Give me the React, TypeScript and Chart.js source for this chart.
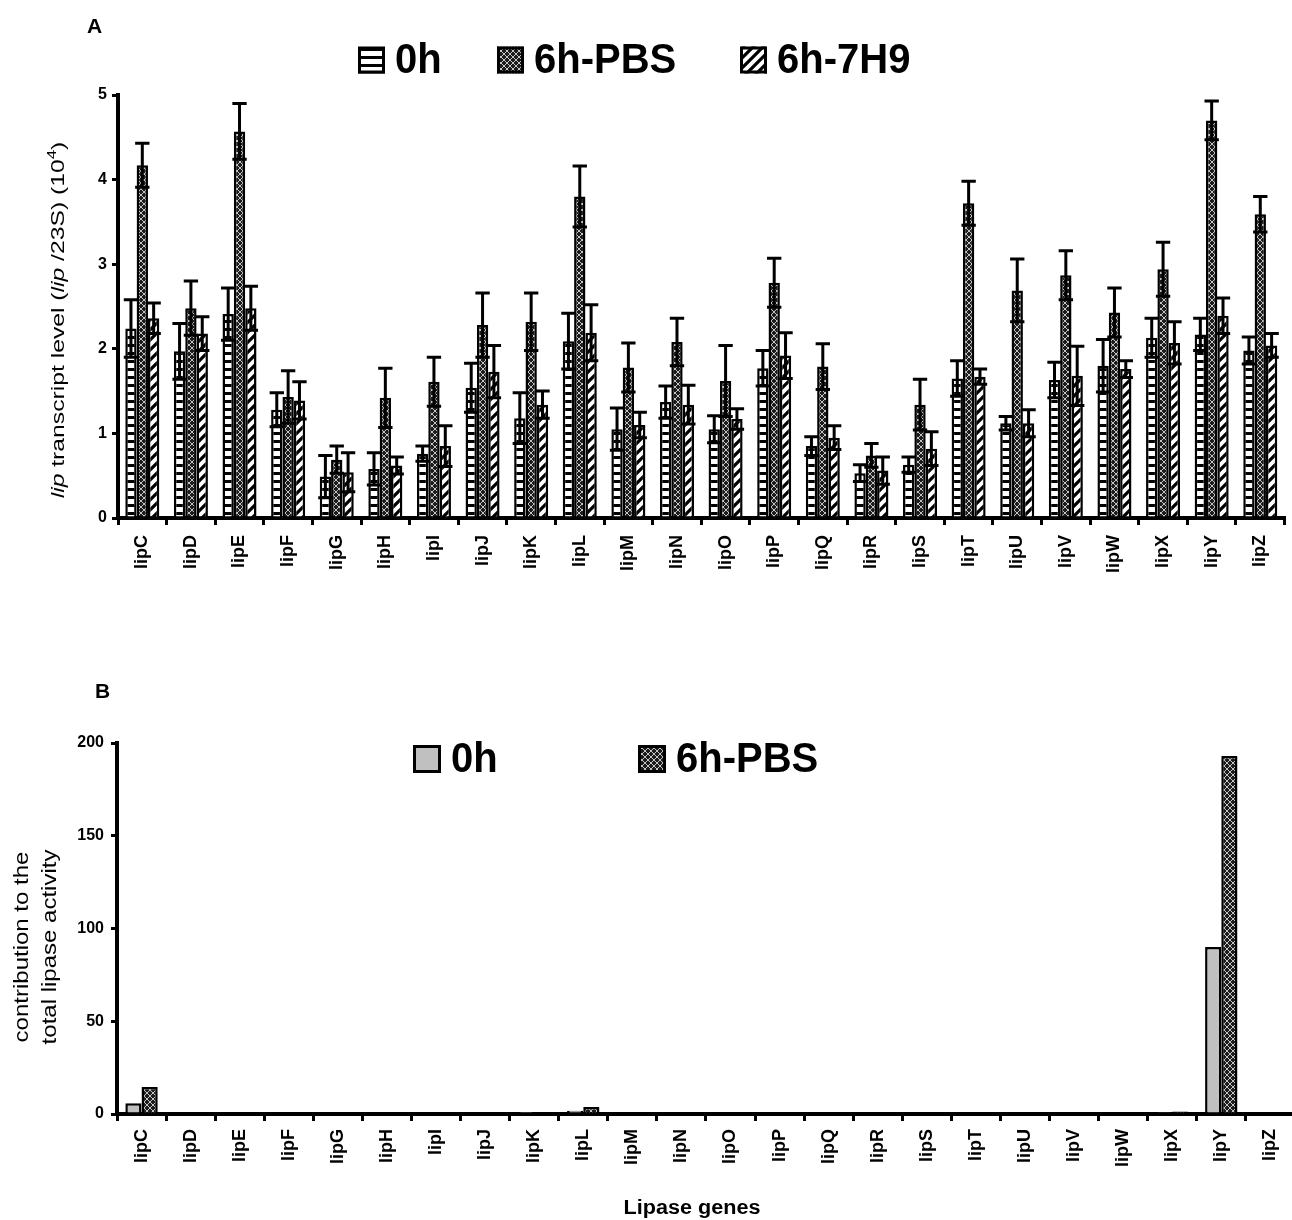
import React, { useEffect, useRef } from "react";
import { Chart, registerables } from "chart.js";

Chart.register(...registerables);

const FONT = "'Liberation Sans', Arial, Helvetica, sans-serif";

const genes = ["lipC", "lipD", "lipE", "lipF", "lipG", "lipH", "lipI", "lipJ", "lipK", "lipL", "lipM", "lipN", "lipO", "lipP", "lipQ", "lipR", "lipS", "lipT", "lipU", "lipV", "lipW", "lipX", "lipY", "lipZ"];

// Panel A: lip transcript level (10^4)
const seriesA = ["0h", "6h-PBS", "6h-7H9"];
const a0h = [2.24, 1.97, 2.41, 1.28, 0.49, 0.58, 0.76, 1.54, 1.18, 2.09, 1.05, 1.37, 1.05, 1.77, 0.85, 0.53, 0.63, 1.65, 1.12, 1.63, 1.8, 2.13, 2.17, 1.98];
const a0hErr = [0.34, 0.33, 0.31, 0.2, 0.25, 0.19, 0.09, 0.29, 0.3, 0.33, 0.25, 0.19, 0.16, 0.21, 0.11, 0.1, 0.09, 0.21, 0.08, 0.21, 0.31, 0.23, 0.19, 0.16];
const aPBS = [4.17, 2.48, 4.57, 1.43, 0.69, 1.42, 1.61, 2.28, 2.32, 3.8, 1.78, 2.08, 1.62, 2.78, 1.79, 0.74, 1.34, 3.72, 2.69, 2.87, 2.43, 2.94, 4.7, 3.59];
const aPBSErr = [0.26, 0.32, 0.33, 0.31, 0.16, 0.35, 0.29, 0.38, 0.34, 0.36, 0.29, 0.28, 0.42, 0.29, 0.27, 0.14, 0.3, 0.26, 0.37, 0.29, 0.29, 0.32, 0.23, 0.21];
const a7H9 = [2.36, 2.18, 2.48, 1.39, 0.54, 0.62, 0.85, 1.73, 1.34, 2.19, 1.1, 1.34, 1.17, 1.92, 0.95, 0.56, 0.82, 1.67, 1.12, 1.68, 1.76, 2.07, 2.39, 2.04];
const a7H9Err = [0.18, 0.2, 0.26, 0.22, 0.23, 0.1, 0.24, 0.31, 0.16, 0.33, 0.15, 0.23, 0.12, 0.27, 0.14, 0.16, 0.2, 0.09, 0.16, 0.35, 0.1, 0.25, 0.21, 0.14];
const yMaxA = 5;
const yStepA = 1;

// Panel B: contribution to the total lipase activity
const seriesB = ["0h", "6h-PBS"];
const b0h = [5.8, 0, 0, 0, 0, 0, 0, 0, 0.3, 1.8, 0, 0, 0, 0, 0, 0, 0, 0, 0, 0, 0, 0.6, 90, 0];
const bPBS = [14.5, 0, 0, 0, 0, 0, 0, 0, 0.8, 3.8, 0, 0, 0, 0, 0, 0, 0, 0, 0, 0, 0, 1.4, 193, 0];
const yMaxB = 200;
const yStepB = 50;

function makePattern(kind: string): CanvasPattern | string {
  const c = document.createElement("canvas");
  const ctx = c.getContext("2d");
  if (!ctx) return "#888";
  if (kind === "stripes") {
    c.width = 8; c.height = 8;
    ctx.fillStyle = "#fff"; ctx.fillRect(0, 0, 8, 8);
    ctx.fillStyle = "#000"; ctx.fillRect(0, 0, 8, 3);
  } else if (kind === "cross") {
    c.width = 6; c.height = 6;
    ctx.fillStyle = "#1c1c1c"; ctx.fillRect(0, 0, 6, 6);
    ctx.strokeStyle = "#c4c4c4"; ctx.lineWidth = 1;
    ctx.beginPath();
    ctx.moveTo(0, 0); ctx.lineTo(6, 6);
    ctx.moveTo(6, 0); ctx.lineTo(0, 6);
    ctx.stroke();
  } else if (kind === "diag") {
    c.width = 10; c.height = 10;
    ctx.fillStyle = "#fff"; ctx.fillRect(0, 0, 10, 10);
    ctx.strokeStyle = "#000"; ctx.lineWidth = 3.2;
    ctx.beginPath();
    ctx.moveTo(-1, 11); ctx.lineTo(11, -1);
    ctx.moveTo(-6, 6); ctx.lineTo(6, -6);
    ctx.moveTo(4, 16); ctx.lineTo(16, 4);
    ctx.stroke();
  }
  return ctx.createPattern(c, "repeat") || "#888";
}

type Seg = { t: string; size: number; weight?: string; style?: string; dy?: number };
type TextItem = { x: number; y: number; rot?: number; sx?: number; align?: "center" | "left"; baseline?: CanvasTextBaseline; segs: Seg[] };

function makeTextPlugin(id: string, items: TextItem[]) {
  return {
    id,
    afterDraw(chart: any) {
      const ctx: CanvasRenderingContext2D = chart.ctx;
      const fontOf = (s: Seg) => `${s.style || "normal"} ${s.weight || "normal"} ${s.size}px ${FONT}`;
      items.forEach((it) => {
        ctx.save();
        ctx.translate(it.x, it.y);
        if (it.rot) ctx.rotate(it.rot);
        if (it.sx) ctx.scale(it.sx, 1);
        ctx.fillStyle = "#000";
        ctx.textAlign = "left";
        ctx.textBaseline = it.baseline || "middle";
        let total = 0;
        it.segs.forEach((s) => { ctx.font = fontOf(s); total += ctx.measureText(s.t).width; });
        let x = it.align === "left" ? 0 : -total / 2;
        it.segs.forEach((s) => {
          ctx.font = fontOf(s);
          ctx.fillText(s.t, x, s.dy || 0);
          x += ctx.measureText(s.t).width;
        });
        ctx.restore();
      });
    },
  };
}

function makeLegendPlugin(id: string, labels: string[], fills: (CanvasPattern | string)[], xs: number[], cy: number, box: number, fontSize: number) {
  return {
    id,
    afterDraw(chart: any) {
      const ctx: CanvasRenderingContext2D = chart.ctx;
      ctx.save();
      labels.forEach((lab, i) => {
        const x = xs[i];
        ctx.fillStyle = fills[i] as any;
        ctx.fillRect(x, cy - box / 2, box, box);
        ctx.strokeStyle = "#000";
        ctx.lineWidth = 3;
        ctx.strokeRect(x + 1.5, cy - box / 2 + 1.5, box - 3, box - 3);
        ctx.fillStyle = "#000";
        ctx.font = `bold ${fontSize}px ${FONT}`;
        ctx.textAlign = "left";
        ctx.textBaseline = "middle";
        ctx.save();
        ctx.translate(x + box + 10, cy + 1);
        ctx.scale(1, 1.08);
        ctx.fillText(lab, 0, 0);
        ctx.restore();
      });
      ctx.restore();
    },
  };
}

function makeErrorPlugin(errs: number[][]) {
  return {
    id: "errorBars",
    afterDatasetsDraw(chart: any) {
      const ctx: CanvasRenderingContext2D = chart.ctx;
      const ys = chart.scales.y;
      ctx.save();
      ctx.strokeStyle = "#000";
      ctx.lineWidth = 3;
      chart.data.datasets.forEach((ds: any, di: number) => {
        const e = errs[di];
        if (!e) return;
        const meta = chart.getDatasetMeta(di);
        meta.data.forEach((bar: any, i: number) => {
          const v = ds.data[i];
          const hi = ys.getPixelForValue(v + e[i]);
          const lo = ys.getPixelForValue(Math.max(0, v - e[i]));
          const half = bar.width / 2 + 1.5;
          ctx.beginPath();
          ctx.moveTo(bar.x, lo); ctx.lineTo(bar.x, hi);
          ctx.moveTo(bar.x - half, hi); ctx.lineTo(bar.x + half, hi);
          ctx.moveTo(bar.x - half, lo); ctx.lineTo(bar.x + half, lo);
          ctx.stroke();
        });
      });
      ctx.restore();
    },
  };
}

function axisCommon(yWidth: number, xHeight: number, yMax: number, yStep: number, yPad: number, xPad: number) {
  return {
    x: {
      ticks: { font: { family: FONT, size: 18, weight: "bold" }, color: "#000", maxRotation: 90, minRotation: 90, padding: xPad, autoSkip: false },
      grid: { display: true, offset: true, drawOnChartArea: false, drawTicks: true, tickLength: 7, color: "#000", lineWidth: 3 },
      border: { display: true, color: "#000", width: 4 },
      afterFit(s: any) { s.height = xHeight; },
    },
    y: {
      min: 0,
      max: yMax,
      ticks: { stepSize: yStep, font: { family: FONT, size: 16, weight: "bold" }, color: "#000", padding: yPad },
      grid: { display: true, drawOnChartArea: false, drawTicks: true, tickLength: 6, color: "#000", lineWidth: 3 },
      border: { display: true, color: "#000", width: 4 },
      afterFit(s: any) { s.width = yWidth; },
    },
  };
}

export default function App() {
  const refA = useRef<HTMLCanvasElement | null>(null);
  const refB = useRef<HTMLCanvasElement | null>(null);

  useEffect(() => {
    if (!refA.current || !refB.current) return;
    const pStripes = makePattern("stripes");
    const pCross = makePattern("cross");
    const pDiag = makePattern("diag");

    const chartA = new Chart(refA.current, {
      type: "bar",
      data: {
        labels: genes,
        datasets: [
          { label: seriesA[0], data: a0h, backgroundColor: pStripes as any, borderColor: "#000", borderWidth: 2.5, categoryPercentage: 0.7, barPercentage: 1.0 },
          { label: seriesA[1], data: aPBS, backgroundColor: pCross as any, borderColor: "#000", borderWidth: 2.5, categoryPercentage: 0.7, barPercentage: 1.0 },
          { label: seriesA[2], data: a7H9, backgroundColor: pDiag as any, borderColor: "#000", borderWidth: 2.5, categoryPercentage: 0.7, barPercentage: 1.0 },
        ],
      },
      options: {
        responsive: false,
        animation: false,
        devicePixelRatio: 1,
        layout: { padding: { top: 95, left: 0, right: 6, bottom: 22 } },
        plugins: { legend: { display: false }, tooltip: { enabled: false }, title: { display: false } },
        scales: axisCommon(118, 70, yMaxA, yStepA, 5, 10) as any,
      },
      plugins: [
        makeErrorPlugin([a0hErr, aPBSErr, a7H9Err]),
        makeLegendPlugin("legendA", seriesA, [pStripes, pCross, pDiag], [358, 497, 740], 60, 27, 40),
        makeTextPlugin("textsA", [
          { x: 87, y: 33, align: "left", baseline: "alphabetic", segs: [{ t: "A", size: 21, weight: "bold" }] },
          {
            x: 59, y: 320, rot: -Math.PI / 2, sx: 1.3,
            segs: [
              { t: "lip", size: 19, style: "italic" },
              { t: " transcript level (", size: 19 },
              { t: "lip", size: 19, style: "italic" },
              { t: " /23S) (10", size: 19 },
              { t: "4", size: 13, dy: -7 },
              { t: ")", size: 19 },
            ],
          },
        ]),
      ],
    });

    const chartB = new Chart(refB.current, {
      type: "bar",
      data: {
        labels: genes,
        datasets: [
          { label: seriesB[0], data: b0h, backgroundColor: "#c0c0c0", borderColor: "#000", borderWidth: 2.5, categoryPercentage: 0.66, barPercentage: 1.0 },
          { label: seriesB[1], data: bPBS, backgroundColor: pCross as any, borderColor: "#000", borderWidth: 2.5, categoryPercentage: 0.66, barPercentage: 1.0 },
        ],
      },
      options: {
        responsive: false,
        animation: false,
        devicePixelRatio: 1,
        layout: { padding: { top: 133, left: 0, right: 2, bottom: 26 } },
        plugins: { legend: { display: false }, tooltip: { enabled: false }, title: { display: false } },
        scales: axisCommon(117, 80, yMaxB, yStepB, 7, 8) as any,
      },
      plugins: [
        makeLegendPlugin("legendB", seriesB, ["#c0c0c0", pCross], [413, 638], 149, 28, 40),
        makeTextPlugin("textsB", [
          { x: 95, y: 88, align: "left", baseline: "alphabetic", segs: [{ t: "B", size: 21, weight: "bold" }] },
          { x: 22, y: 337, rot: -Math.PI / 2, sx: 1.2, segs: [{ t: "contribution to the", size: 20 }] },
          { x: 50, y: 337, rot: -Math.PI / 2, sx: 1.2, segs: [{ t: "total lipase activity", size: 20 }] },
          { x: 692, y: 604, baseline: "alphabetic", sx: 1.08, segs: [{ t: "Lipase genes", size: 20, weight: "bold" }] },
        ]),
      ],
    });

    return () => {
      chartA.destroy();
      chartB.destroy();
    };
  }, []);

  return (
    <div style={{ position: "absolute", left: 0, top: 0, width: 1292, height: 1220, background: "#fff", overflow: "hidden" }}>
      <canvas ref={refA} width={1292} height={610} style={{ display: "block", width: 1292, height: 610 }} />
      <canvas ref={refB} width={1300} height={610} style={{ display: "block", width: 1300, height: 610 }} />
    </div>
  );
}
